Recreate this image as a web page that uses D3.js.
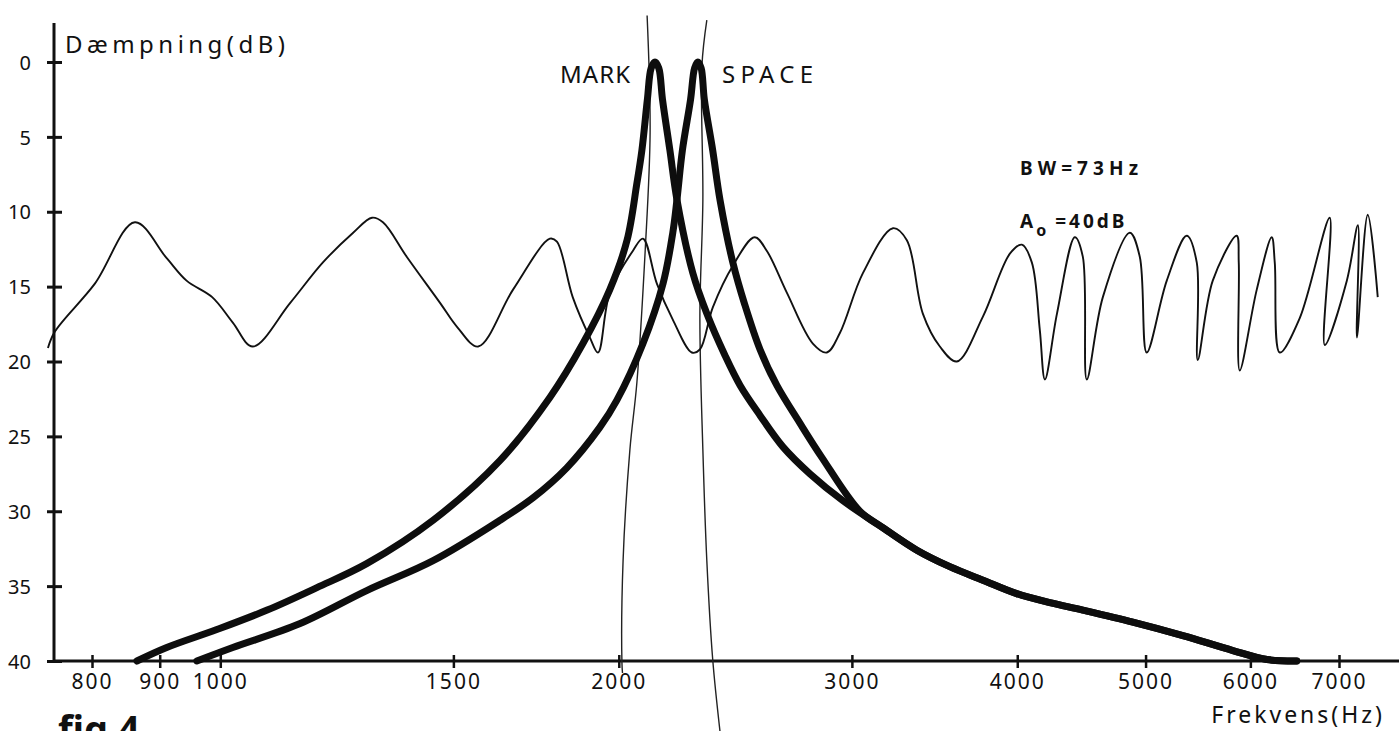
<!DOCTYPE html>
<html>
<head>
<meta charset="utf-8">
<script src="https://cdn.jsdelivr.net/npm/d3@7"></script>
<style>
  body { margin: 0; background: #fff; }
  svg text { font-family: "Noto Sans", "DejaVu Sans", sans-serif; fill: #111; }
</style>
</head>
<body>
<svg id="myGraph" width="1399" height="731"></svg>
<script>
var svgWidth = 1399;
var svgHeight = 731;

// tick values
var xTicks = [800, 900, 1000, 1500, 2000, 3000, 4000, 5000, 6000, 7000];
var yTicks = [0, 5, 10, 15, 20, 25, 30, 35, 40];

// filter curves, [frequency Hz, attenuation dB]
var markCurve = [
  [865, 40], [911, 39.1], [994, 37.9], [1085, 36.6], [1183, 35.1], [1290, 33.5],
  [1448, 30.6], [1627, 26.6], [1774, 22.4], [1879, 18.8], [1969, 15.2], [2029, 11.9],
  [2064, 8.1], [2082, 5.9], [2102, 2.5], [2116, 0.4], [2130, 0], [2144, 0.4], [2158, 2.5],
  [2186, 5.9], [2213, 9.2], [2275, 14.1], [2331, 16.8], [2406, 19.6], [2470, 21.6],
  [2557, 23.6], [2661, 25.7], [2789, 27.5], [2954, 29.3], [3166, 31.1], [3359, 32.6],
  [3557, 33.7], [3768, 34.6], [3996, 35.5], [4233, 36.1], [4483, 36.6], [4890, 37.4],
  [5335, 38.3], [5820, 39.3], [6176, 39.9], [6504, 40]
];
var spaceCurve = [
  [960, 40], [1022, 39.1], [1149, 37.5], [1290, 35.3], [1448, 33.3], [1627, 30.6],
  [1723, 29.1], [1827, 27.1], [1935, 24.4], [1993, 22.6], [2086, 18.8], [2160, 14.8],
  [2197, 11.4], [2213, 9.2], [2234, 5.9], [2266, 2.5], [2282, 0.4], [2295, 0],
  [2308, 0.4], [2321, 2.5], [2355, 5.9], [2385, 9.2], [2439, 13.4], [2490, 16.2],
  [2557, 19.2], [2633, 21.6], [2740, 24.1], [2847, 26.4], [3042, 30.0], [3166, 31.1],
  [3359, 32.6], [3557, 33.7], [3768, 34.6], [3996, 35.5], [4233, 36.1], [4483, 36.6],
  [4890, 37.4], [5335, 38.3], [5820, 39.3], [6176, 39.9], [6504, 40]
];

// thin measured curve
var ripple = [
  [741, 19.1], [750, 18.0], [804, 14.8], [862, 10.7], [911, 13.1], [943, 14.6],
  [986, 15.7], [1022, 17.4], [1058, 19.0], [1129, 16.1], [1195, 13.4], [1260, 11.4],
  [1302, 10.4], [1327, 10.7], [1383, 13.0], [1466, 16.1], [1510, 17.7], [1566, 19.0],
  [1664, 15.2], [1774, 11.8], [1796, 12.0], [1846, 15.7], [1902, 18.4], [1929, 19.4],
  [1969, 15.4], [2050, 12.6], [2086, 11.8], [2137, 14.8], [2197, 17.2], [2271, 19.4],
  [2303, 19.2], [2355, 16.4], [2439, 13.6], [2533, 11.7], [2587, 12.6], [2679, 15.4],
  [2803, 18.8], [2872, 19.4], [2938, 18.1], [3058, 14.1], [3222, 11.1], [3301, 11.9],
  [3394, 16.8], [3496, 19.0], [3601, 20.0], [3768, 17.0], [3949, 12.8], [4032, 12.2],
  [4103, 13.4], [4160, 17.9], [4197, 21.2], [4286, 16.8], [4421, 11.7], [4483, 13.0],
  [4514, 21.2], [4642, 15.7], [4865, 11.4], [4950, 13.0], [5010, 19.4], [5188, 14.6],
  [5371, 11.6], [5466, 13.4], [5475, 19.9], [5620, 14.6], [5859, 11.6], [5880, 13.4],
  [5890, 20.6], [6067, 15.2], [6227, 11.7], [6260, 13.4], [6315, 19.4], [6538, 17.1],
  [6888, 10.4], [6829, 18.9], [7096, 14.6], [7234, 10.9], [7222, 18.4], [7359, 10.2],
  [7488, 15.7]
];

// hand drawn guide lines
var markGuide = [[2101, -3.1], [2112, 4.7], [2094, 12.6], [2064, 21.4], [2039, 25.9], [2015, 33.3], [2011, 40.1], [2013, 40.8]];
var spaceGuide = [[2331, -2.8], [2311, 0.3], [2315, 9.2], [2303, 17.0], [2315, 25.9], [2331, 33.3], [2355, 39.9], [2385, 44.7]];

var x = d3.scaleLog()
  .domain([800, 7000])
  .range([92, 1339]);

var y = d3.scaleLinear()
  .domain([0, 40])
  .range([62, 661]);

var svg = d3.select('#myGraph');

var line = d3.line()
  .x(function(d) { return x(d[0]); })
  .y(function(d) { return y(d[1]); })
  .curve(d3.curveCatmullRom.alpha(0.5));

// axes
var yAxis = svg.append('g')
  .attr('transform', 'translate(54,0)')
  .call(d3.axisLeft(y).tickValues(yTicks).tickSizeOuter(0).tickSize(7).tickPadding(16));

var xAxis = svg.append('g')
  .attr('transform', 'translate(0,661)')
  .call(d3.axisBottom(x).tickValues(xTicks).tickFormat(d3.format('d')).tickSizeOuter(0).tickSize(7));

yAxis.select('.domain').remove();
xAxis.select('.domain').remove();

yAxis.selectAll('.tick line')
  .attr('x1', 8)
  .attr('x2', -7)
  .attr('stroke', '#111')
  .attr('stroke-width', 3);

yAxis.selectAll('.tick text')
  .attr('font-size', 20)
  .attr('font-family', null)
  .attr('dy', '0.36em');

xAxis.selectAll('.tick line')
  .attr('y1', -6)
  .attr('y2', 7)
  .attr('stroke', '#111')
  .attr('stroke-width', 2.5);

xAxis.selectAll('.tick text')
  .attr('font-size', 21)
  .attr('font-family', null)
  .attr('letter-spacing', 2)
  .attr('y', 28)
  .attr('dy', 0);

svg.append('line')
  .attr('x1', 54).attr('x2', 54)
  .attr('y1', 23).attr('y2', 662)
  .attr('stroke', '#111')
  .attr('stroke-width', 3);

svg.append('line')
  .attr('x1', 53).attr('x2', svgWidth)
  .attr('y1', 661).attr('y2', 661)
  .attr('stroke', '#111')
  .attr('stroke-width', 3);

// guide lines and ripple curve
[markGuide, spaceGuide].forEach(function(g) {
  svg.append('path')
    .attr('d', line(g))
    .attr('fill', 'none')
    .attr('stroke', '#222')
    .attr('stroke-width', 1.4);
});

svg.append('path')
  .attr('d', line(ripple))
  .attr('fill', 'none')
  .attr('stroke', '#111')
  .attr('stroke-width', 1.9)
  .attr('stroke-linejoin', 'round');

// thick filter curves
[markCurve, spaceCurve].forEach(function(c) {
  svg.append('path')
    .attr('d', line(c))
    .attr('fill', 'none')
    .attr('stroke', '#0d0d0d')
    .attr('stroke-width', 7)
    .attr('stroke-linejoin', 'round')
    .attr('stroke-linecap', 'round');
});

// labels
svg.append('text')
  .attr('x', 65).attr('y', 53)
  .attr('font-size', 24)
  .attr('textLength', 220)
  .attr('lengthAdjust', 'spacing')
  .text('Dæmpning(dB)');

svg.append('text')
  .attr('x', 560).attr('y', 83)
  .attr('font-size', 24)
  .attr('textLength', 70)
  .attr('lengthAdjust', 'spacing')
  .text('MARK');

svg.append('text')
  .attr('x', 722).attr('y', 83)
  .attr('font-size', 24)
  .attr('textLength', 91)
  .attr('lengthAdjust', 'spacing')
  .text('SPACE');

svg.append('text')
  .attr('x', 1020).attr('y', 175)
  .attr('font-size', 19)
  .attr('font-weight', 'bold')
  .attr('textLength', 118)
  .attr('lengthAdjust', 'spacing')
  .text('BW=73Hz');

var a0 = svg.append('text')
  .attr('x', 1020).attr('y', 228)
  .attr('font-size', 19)
  .attr('font-weight', 'bold')
  .attr('letter-spacing', 3);
a0.append('tspan').text('A');
a0.append('tspan').attr('dy', 8).attr('font-size', 16).text('o');
a0.append('tspan').attr('dy', -8).attr('dx', 6).text('=40dB');

svg.append('text')
  .attr('x', 1385).attr('y', 723)
  .attr('text-anchor', 'end')
  .attr('font-size', 23)
  .attr('letter-spacing', 3)
  .text('Frekvens(Hz)');

svg.append('text')
  .attr('x', 58).attr('y', 743)
  .attr('font-size', 38)
  .attr('font-weight', 'bold')
  .text('fig 4');
</script>
</body>
</html>
